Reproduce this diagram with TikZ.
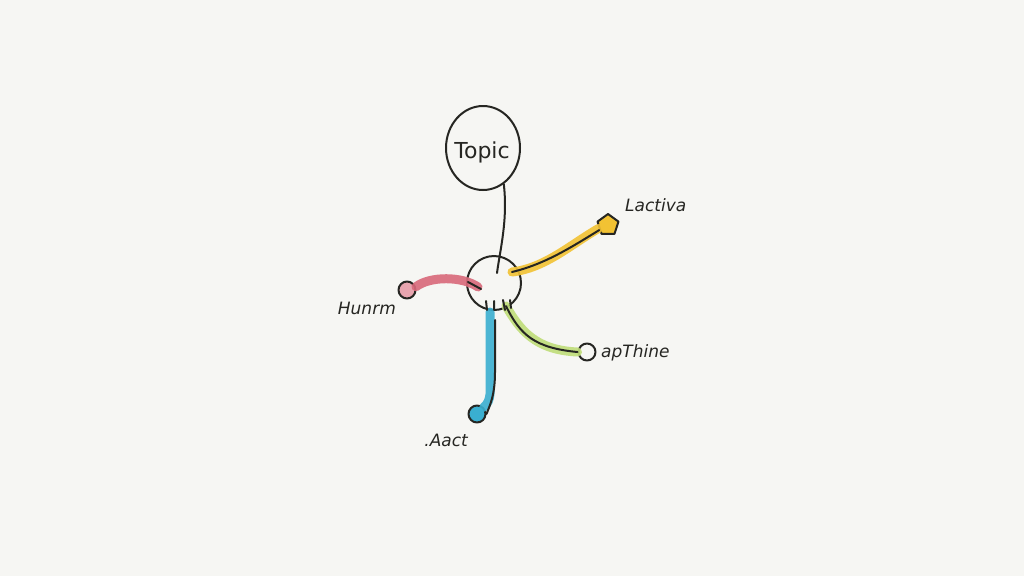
\documentclass[tikz,border=0pt]{standalone}
\usepackage{fontspec}
\setmainfont{DejaVu Sans}
\usetikzlibrary{shapes.geometric}
\definecolor{paper}{HTML}{F6F6F3}
\definecolor{ink}{HTML}{262622}
\definecolor{mred}{HTML}{D9697A}
\definecolor{myel}{HTML}{F2C233}
\definecolor{mgrn}{HTML}{BFDD78}
\definecolor{mblu}{HTML}{3AAFD0}
\tikzset{
  inkline/.style={draw=ink, line width=2pt, line cap=round, line join=round},
  marker/.style={line width=9pt, line cap=round, opacity=0.9},
  endnode/.style={circle, inkline, minimum size=17pt, inner sep=0pt},
  lbl/.style={font=\itshape\fontsize{17}{17}\selectfont, text=ink, inner sep=0pt},
}
\begin{document}
\begin{tikzpicture}[x=1pt,y=-1pt]
\fill[paper] (0,0) rectangle (1024,576);
\useasboundingbox (0,0) rectangle (1024,576);
% topic
\node[ellipse, inkline, minimum width=74pt, minimum height=84pt, inner sep=0pt] (topic) at (483,148) {};
\node[font=\fontsize{22}{22}\selectfont, text=ink] (topictext) at (482,152) {Topic};
% hub
\node[circle, inkline, minimum size=54pt, inner sep=0pt] (hub) at (494,283) {};
\coordinate (hubtop) at (497,273);
\draw[inkline] (topic.-60) .. controls (508,220) and (500,250) .. (hubtop);
% red branch
\node[endnode, fill=mred!60] (red) at (407,290) {};
\coordinate (rs) at (478,287);
\draw[mred, marker] (rs) .. controls (462,276) and (430,276) .. (red.20);
\draw[inkline] (468,282) -- (481,289);
\node[lbl, anchor=east] (redl) at (396,308) {Hunrm};
% yellow branch
\node[regular polygon, regular polygon sides=5, inkline, fill=myel, minimum size=22pt, inner sep=0pt] (yel) at (608,225) {};
\coordinate (ys) at (512,272);
\draw[myel, marker] (ys) .. controls (545,268) and (570,245) .. (yel.200);
\draw[inkline] (ys) .. controls (545,264) and (570,248) .. (yel.210);
\node[lbl, anchor=west] (yell) at (625,205) {Lactiva};
% green branch
\node[endnode, fill=paper] (grn) at (587,352) {};
\coordinate (gs) at (506,306);
\draw[mgrn, marker] (gs) .. controls (520,330) and (535,350) .. (grn.west);
\draw[inkline] (gs) .. controls (520,335) and (535,348) .. (grn.west);
\draw[inkline] (503,300) -- (505,310) (510,300) -- (511,308);
\node[lbl, anchor=west] (grnl) at (601,353) {apThine};
% blue branch
\node[endnode, fill=mblu] (blu) at (477,414) {};
\coordinate (bs) at (490,312);
\draw[mblu, marker] (bs) -- (490,372) .. controls (490,392) and (492,400) .. (blu.north east);
\draw[inkline] (486,301) -- (487,310) (494,301) -- (494,310);
\draw[inkline] (495,320) -- (495,372) .. controls (495,395) and (490,405) .. (blu.east);
\node[lbl, anchor=east] (blul) at (468,440) {.Aact};
\end{tikzpicture}
\end{document}
